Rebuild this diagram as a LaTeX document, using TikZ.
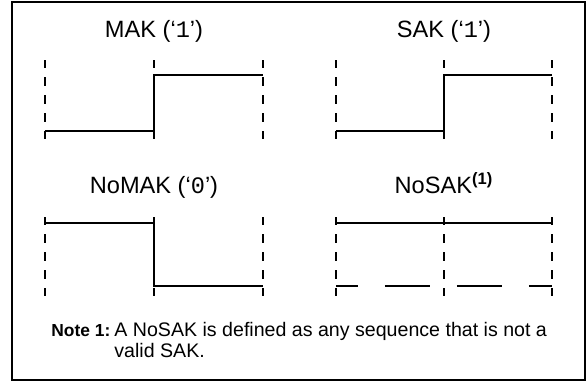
\documentclass[tikz,border=0pt]{standalone}
\usepackage{fontspec}
\setmainfont{Liberation Sans}
\newfontfamily\monofont{Liberation Mono}
\begin{document}
\begin{tikzpicture}[x=0.5pt,y=-0.5pt,
    wave/.style={line width=1pt},
    guide/.style={line width=1pt, dash pattern=on 4.5pt off 4.5pt, dash phase=0.5pt},
    title/.style={font=\fontsize{11.8}{13}\selectfont, anchor=base, inner sep=0pt},
    notetxt/.style={font=\fontsize{9.8}{11}\selectfont, anchor=base west, inner sep=0pt}]
        \useasboundingbox (0,0) rectangle (586,381);
        \draw[line width=0.85pt] (12,2) rectangle (585,380); %frame

        \node[title] (mak) at (154,37) {MAK (‘{\monofont 1}’)};
        \node[title] (sak) at (444,37) {SAK (‘{\monofont 1}’)};
        \node[title] (nomak) at (154,193) {NoMAK (‘{\monofont 0}’)};
        \node[title] (nosak) at (444,193) {NoSAK\textsuperscript{\bfseries (1)}};

        \draw[guide] (45,60) -- (45,139); %mak
        \draw[guide] (154,60) -- (154,139);
        \draw[guide] (263,60) -- (263,139);
        \draw[wave] (45,131) -- (154,131) -- (154,75) -- (263,75);

        \draw[guide] (336,60) -- (336,139); %sak
        \draw[guide] (444,60) -- (444,139);
        \draw[guide] (552,60) -- (552,139);
        \draw[wave] (336,131) -- (444,131) -- (444,75) -- (552,75);

        \draw[guide] (45,217) -- (45,296); %nomak
        \draw[guide] (154,217) -- (154,296);
        \draw[guide] (263,217) -- (263,296);
        \draw[wave] (45,223) -- (154,223) -- (154,286) -- (263,286);

        \draw[guide] (336,217) -- (336,296); %nosak
        \draw[guide] (444,217) -- (444,296);
        \draw[guide] (552,217) -- (552,296);
        \draw[wave] (336,223) -- (552,223);
        \draw[wave, dash pattern=on 22.5pt off 13.5pt, dash phase=11.5pt] (336,286) -- (552,286);

        \node[notetxt, font=\fontsize{8.7}{11}\selectfont\bfseries] (note) at (51,336) {Note 1:};
        \node[notetxt] (notea) at (114,336) {A NoSAK is defined as any sequence that is not a};
        \node[notetxt] (noteb) at (114,357) {valid SAK.};
    \end{tikzpicture}
\end{document}
